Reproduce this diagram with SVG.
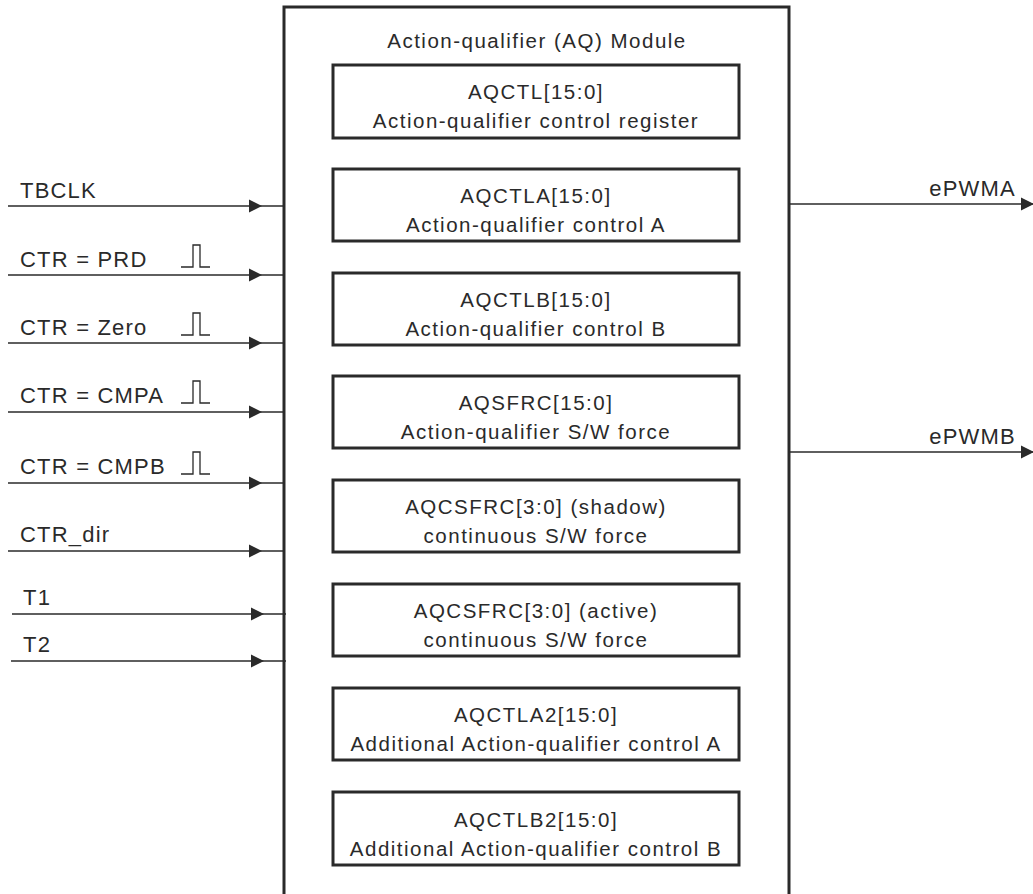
<svg xmlns="http://www.w3.org/2000/svg" width="1033" height="894" viewBox="0 0 1033 894">
<defs>
<style>
text{font-family:"Liberation Sans",Arial,sans-serif;fill:#2a2a2a}
.c{text-anchor:middle;font-size:20.5px;letter-spacing:1.5px}
.l{font-size:22px;letter-spacing:1.2px}
.r{text-anchor:end;font-size:22px;letter-spacing:1.2px}
.box{fill:#fff;stroke:#2a2a2a;stroke-width:3}
.ln{stroke:#2a2a2a;stroke-width:1.4;fill:none}
.pl{stroke:#2a2a2a;stroke-width:1.3;fill:none}
.ah{fill:#2a2a2a}
</style>
</defs>
<rect width="1033" height="894" fill="#fff"/>
<g id="module">
<path d="M284,900 V7 H789 V900" class="box"/>
<text class="c" x="537" y="48">Action-qualifier (AQ) Module</text>
</g>
<g id="aqctl"><rect class="box" x="333" y="65" width="406" height="73"/><text class="c" x="536" y="99">AQCTL[15:0]</text><text class="c" x="536" y="128">Action-qualifier control register</text></g>
<g id="aqctla"><rect class="box" x="333" y="169" width="406" height="72"/><text class="c" x="536" y="203">AQCTLA[15:0]</text><text class="c" x="536" y="232">Action-qualifier control A</text></g>
<g id="aqctlb"><rect class="box" x="333" y="273" width="406" height="72"/><text class="c" x="536" y="307">AQCTLB[15:0]</text><text class="c" x="536" y="336">Action-qualifier control B</text></g>
<g id="aqsfrc"><rect class="box" x="333" y="376" width="406" height="72"/><text class="c" x="536" y="410">AQSFRC[15:0]</text><text class="c" x="536" y="439">Action-qualifier S/W force</text></g>
<g id="aqcsfrc-shadow"><rect class="box" x="333" y="480" width="406" height="72"/><text class="c" x="536" y="514">AQCSFRC[3:0] (shadow)</text><text class="c" x="536" y="543">continuous S/W force</text></g>
<g id="aqcsfrc-active"><rect class="box" x="333" y="584" width="406" height="72"/><text class="c" x="536" y="618">AQCSFRC[3:0] (active)</text><text class="c" x="536" y="647">continuous S/W force</text></g>
<g id="aqctla2"><rect class="box" x="333" y="688" width="406" height="72"/><text class="c" x="536" y="722">AQCTLA2[15:0]</text><text class="c" x="536" y="751">Additional Action-qualifier control A</text></g>
<g id="aqctlb2"><rect class="box" x="333" y="792" width="406" height="73"/><text class="c" x="536" y="827">AQCTLB2[15:0]</text><text class="c" x="536" y="856">Additional Action-qualifier control B</text></g>
<g id="connectors">
<line class="ln" x1="8" y1="206" x2="284" y2="206"/><path class="ah" d="M249,199.5 L262,206 L249,212.5 Z"/>
<line class="ln" x1="8" y1="275" x2="284" y2="275"/><path class="ah" d="M249,268.5 L262,275 L249,281.5 Z"/>
<line class="ln" x1="8" y1="343" x2="284" y2="343"/><path class="ah" d="M249,336.5 L262,343 L249,349.5 Z"/>
<line class="ln" x1="8" y1="412" x2="284" y2="412"/><path class="ah" d="M249,405.5 L262,412 L249,418.5 Z"/>
<line class="ln" x1="8" y1="483" x2="284" y2="483"/><path class="ah" d="M249,476.5 L262,483 L249,489.5 Z"/>
<line class="ln" x1="8" y1="551" x2="284" y2="551"/><path class="ah" d="M249,544.5 L262,551 L249,557.5 Z"/>
<line class="ln" x1="12" y1="614" x2="286" y2="614"/><path class="ah" d="M251,607.5 L264,614 L251,620.5 Z"/>
<line class="ln" x1="11" y1="661" x2="286" y2="661"/><path class="ah" d="M251,654.5 L264,661 L251,667.5 Z"/>
<line class="ln" x1="789" y1="204" x2="1033" y2="204"/><path class="ah" d="M1021,197.5 L1034,204 L1021,210.5 Z"/>
<line class="ln" x1="789" y1="452" x2="1033" y2="452"/><path class="ah" d="M1021,445.5 L1034,452 L1021,458.5 Z"/>
<path class="pl" d="M181,267 H193 V245 H200 V267 H210"/>
<path class="pl" d="M181,335 H193 V313 H200 V335 H210"/>
<path class="pl" d="M181,403 H193 V381 H200 V403 H210"/>
<path class="pl" d="M181,474 H193 V452 H200 V474 H210"/>
</g>
<g id="labels">
<text class="l" x="20" y="198">TBCLK</text>
<text class="l" x="20" y="267">CTR = PRD</text>
<text class="l" x="20" y="335">CTR = Zero</text>
<text class="l" x="20" y="403">CTR = CMPA</text>
<text class="l" x="20" y="474">CTR = CMPB</text>
<text class="l" x="20" y="542">CTR_dir</text>
<text class="l" x="23" y="605">T1</text>
<text class="l" x="23" y="652">T2</text>
<text class="r" x="1016" y="196">ePWMA</text>
<text class="r" x="1016" y="444">ePWMB</text>
</g>
</svg>
